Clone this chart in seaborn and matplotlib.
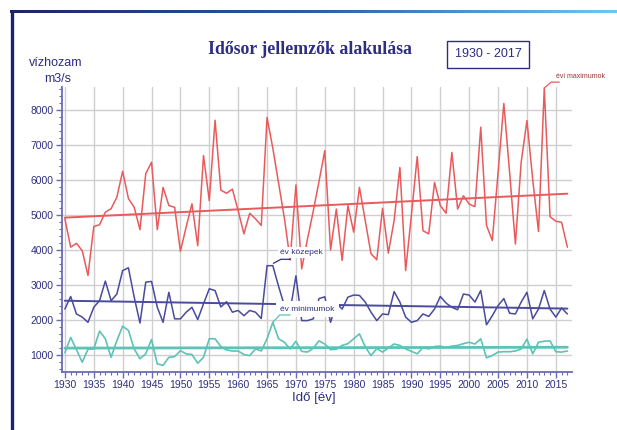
import numpy as np
import pandas as pd
import matplotlib
matplotlib.use("Agg")
import matplotlib.pyplot as plt
import seaborn as sns
from matplotlib.lines import Line2D
from matplotlib.ticker import MultipleLocator
from matplotlib.colors import LinearSegmentedColormap

years = list(range(1930, 2018))

evi_max = [4880, 4070, 4180, 3970, 3260, 4660, 4710, 5070, 5170, 5500,
           6240, 5460, 5210, 4570, 6170, 6500, 4570, 5780, 5260, 5210,
           3950, 4650, 5310, 4110, 6690, 5400, 7700, 5700, 5610, 5730,
           5110, 4450, 5040, 4880, 4690, 7780, 6900, 5900, 4900, 3700,
           5850, 3450, 4300, 5100, 5950, 6830, 3990, 5160, 3690, 5260,
           4500, 5780, 4830, 3880, 3710, 5180, 3900, 4830, 6350, 3400,
           5000, 6660, 4540, 4450, 5920, 5260, 5040, 6780, 5160, 5540,
           5300, 5230, 7500, 4690, 4260, 6200, 8180, 6200, 4160, 6500,
           7690, 6000, 4520, 8620, 4940, 4810, 4780, 4070]

ev_kozep = [2300, 2660, 2160, 2070, 1920, 2350, 2540, 3100, 2540, 2730,
            3400, 3480, 2640, 1900, 3070, 3090, 2350, 1920, 2780, 2020,
            2020, 2210, 2350, 2000, 2450, 2880, 2830, 2360, 2510, 2210,
            2260, 2110, 2260, 2210, 2030, 3540, 3540, 2950, 2400, 2250,
            3250, 1970, 1970, 2020, 2600, 2650, 1920, 2470, 2300, 2640,
            2700, 2690, 2500, 2210, 1970, 2160, 2140, 2800, 2500, 2070,
            1920, 1970, 2160, 2090, 2300, 2660, 2470, 2350, 2280, 2730,
            2700, 2500, 2830, 1850, 2110, 2400, 2600, 2180, 2160, 2500,
            2780, 2020, 2300, 2830, 2300, 2070, 2330, 2160]

ev_min = [1050, 1490, 1140, 780, 1150, 1160, 1670, 1450, 920, 1400,
          1810, 1690, 1160, 880, 1020, 1430, 730, 690, 920, 940,
          1110, 1020, 1000, 750, 920, 1450, 1450, 1230, 1130, 1100,
          1100, 1000, 970, 1160, 1100, 1450, 1920, 1450, 1350, 1160,
          1380, 1090, 1070, 1180, 1390, 1300, 1140, 1150, 1260, 1310,
          1450, 1590, 1220, 970, 1170, 1070, 1190, 1300, 1260, 1160,
          1090, 1020, 1200, 1160, 1230, 1240, 1200, 1240, 1260, 1310,
          1350, 1300, 1450, 905, 970, 1070, 1080, 1080, 1100, 1160,
          1440, 1020, 1350, 1380, 1390, 1080, 1070, 1100]

y_ticks = [1000, 2000, 3000, 4000, 5000, 6000, 7000, 8000]
x_ticks = list(range(1930, 2016, 5))

title = "Idősor jellemzők alakulása"
period = "1930 - 2017"
y_label = ["vízhozam", "m3/s"]
x_label = "Idő [év]"
lbl_max = "évi maximumok"
lbl_mean = "év közepek"
lbl_min = "év minimumok"

RED = "#e95a5c"
BLUE = "#4a4a9e"
TEAL = "#5ec2b6"
NAVY = "#2e2e80"
AXC = "#6a6ab4"

sns.set_theme(style="white")
plt.rcParams['font.family'] = ['Liberation Sans', 'DejaVu Sans']

W, H = 617, 430
fig = plt.figure(figsize=(W / 100, H / 100), dpi=100)
fig.patch.set_facecolor("white")

ax = fig.add_axes([62 / W, (H - 372) / H, 510 / W, 285 / H])
ax.set_facecolor("white")

df = pd.DataFrame({"ev": years, "max": evi_max, "kozep": ev_kozep, "min": ev_min})

sns.lineplot(data=df, x="ev", y="max", ax=ax, color=RED, lw=1.1, zorder=3)
sns.lineplot(data=df, x="ev", y="kozep", ax=ax, color=BLUE, lw=1.1, zorder=3)
sns.lineplot(data=df, x="ev", y="min", ax=ax, color=TEAL, lw=1.2, zorder=3)

sns.regplot(data=df, x="ev", y="max", ax=ax, scatter=False, ci=None, truncate=True,
            line_kws=dict(color=RED, lw=1.4, zorder=2))
sns.regplot(data=df, x="ev", y="kozep", ax=ax, scatter=False, ci=None, truncate=True,
            line_kws=dict(color=BLUE, lw=1.4, zorder=2))
sns.regplot(data=df, x="ev", y="min", ax=ax, scatter=False, ci=None, truncate=True,
            line_kws=dict(color=TEAL, lw=2.0, zorder=2))

ax.set_xlim(1929.5, 2017.8)
ax.set_ylim(500, 8650)
ax.set_xticks(x_ticks)
ax.set_yticks(y_ticks)
ax.xaxis.set_minor_locator(MultipleLocator(1))
ax.yaxis.set_minor_locator(MultipleLocator(200))
ax.grid(True, which="major", color="#cfcfcf", lw=1.0)
ax.set_axisbelow(True)
ax.set_xlabel("")
ax.set_ylabel("")
for s in ["top", "right"]:
    ax.spines[s].set_visible(False)
for s in ["left", "bottom"]:
    ax.spines[s].set_color(AXC)
    ax.spines[s].set_linewidth(1.3)
ax.tick_params(axis="both", which="major", colors=AXC, labelcolor=NAVY,
               labelsize=7.5, length=4, width=1, direction="out", pad=2)
ax.tick_params(axis="both", which="minor", colors=AXC, length=2, width=0.8,
               direction="out")
ax.tick_params(axis="both", which="both", bottom=True, left=True)

# annotations with white boxes and leader lines
ax.text(1970.9, 3917, lbl_mean, fontsize=6, color=NAVY, ha="center", va="center",
        zorder=6, bbox=dict(boxstyle="square,pad=0.2", fc="white", ec="none"))
ax.plot([1966.1, 1967.4, 1969.0], [3608, 3723, 3723], color=NAVY, lw=0.9, zorder=7)

ax.text(1972.0, 2293, lbl_min, fontsize=6, color=NAVY, ha="center", va="center",
        zorder=6, bbox=dict(boxstyle="square,pad=0.55", fc="white", ec="none"))
ax.plot([1966.0, 1967.2, 1969.0], [1924, 2130, 2130], color=TEAL, lw=0.9, zorder=7)

ax.plot([2013.0, 2014.2, 2015.6], [8620, 8790, 8790], color=RED, lw=0.9,
        zorder=7, clip_on=False)
ax.text(2015.0, 8950, lbl_max, fontsize=5, color="#9a3535", ha="left", va="center",
        clip_on=False, zorder=7)

# texts
fig.text(310 / W, 1 - 49 / H, title, fontsize=12.8, fontweight="bold",
         family=["Liberation Serif", "DejaVu Serif"], color=NAVY, ha="center", va="center")
fig.text(488 / W, 1 - 54 / H, period, fontsize=9, color=NAVY, ha="center", va="center",
         bbox=dict(boxstyle="square,pad=0.6", fc="white", ec=NAVY, lw=1))
fig.text(56 / W, 1 - 63 / H, y_label[0], fontsize=9, color=NAVY, ha="center", va="center")
fig.text(58 / W, 1 - 79 / H, y_label[1], fontsize=9, color=NAVY, ha="center", va="center")
fig.text(314 / W, 1 - 398 / H, x_label, fontsize=9.5, color=NAVY, ha="center", va="center")

# frame decoration
bar = fig.add_axes([10 / W, 417 / H, 607 / W, 3.5 / H])
cmap = LinearSegmentedColormap.from_list("frame", ["#1c2566", "#2f5ab0", "#66ccf2"])
bar.imshow(np.linspace(0, 1, 256)[None, :], cmap=cmap, aspect="auto")
bar.axis("off")
fig.add_artist(Line2D([11.5 / W, 11.5 / W], [0, 419 / H], color="#1c2566", lw=2.4))

fig.savefig("out.png", dpi=100)
